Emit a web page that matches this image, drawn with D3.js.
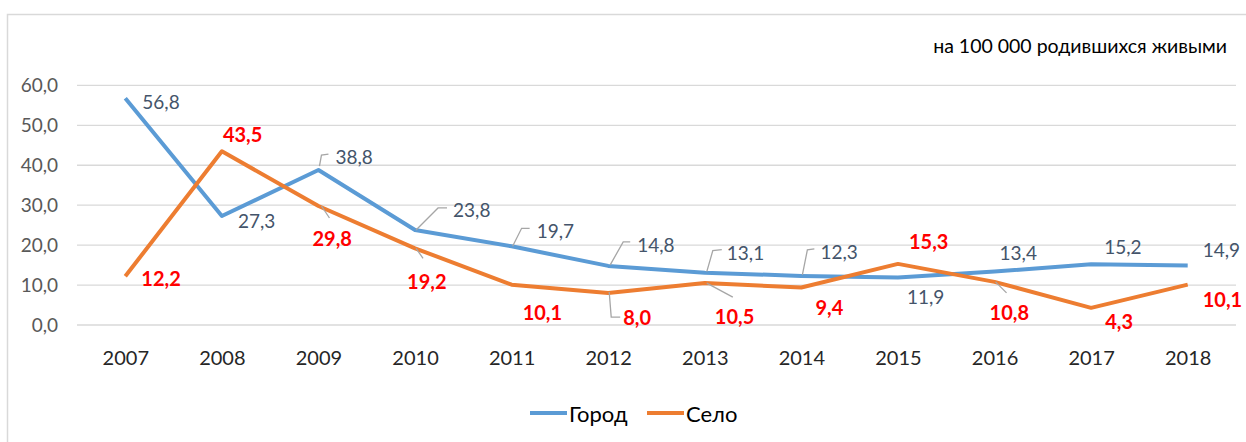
<!DOCTYPE html>
<html lang="ru">
<head>
<meta charset="UTF-8">
<title>Город / Село</title>
<script src="https://cdn.jsdelivr.net/npm/d3@7"></script>
<style>
  body { margin: 0; background: #fff; }
  text { font-family: Lato, "Noto Sans", sans-serif; }
</style>
</head>
<body>
<svg id="chart" width="1246" height="442"></svg>
<script>
// data
const years = ["2007","2008","2009","2010","2011","2012","2013","2014","2015","2016","2017","2018"];
const city = [56.8, 27.3, 38.8, 23.8, 19.7, 14.8, 13.1, 12.3, 11.9, 13.4, 15.2, 14.9];
const village = [12.2, 43.5, 29.8, 19.2, 10.1, 8.0, 10.5, 9.4, 15.3, 10.8, 4.3, 10.1];
const yTicks = [0, 10, 20, 30, 40, 50, 60];
const seriesNames = ["Город", "Село"];
const unitNote = "на 100 000 родившихся живыми";

// label placement (px offsets from the point), like the hand-dragged excel labels
const cityLabelPos = [[17,3],[16,5],[17,-14],[38,-20],[25,-16],[29,-21],[22,-20],[19,-24],[9,19],[5,-19],[13,-18],[15,-16]];
const villageLabelPos = [[16,2],[1,-17],[-6,32],[-8,33],[11,27],[15,24],[10,33],[14,20],[11,-23],[-5,30],[14,13],[15,14]];
const cityLeaders = {2: [[1,-4],[3,-15],[10,-16]], 3: [[1,0],[23,-22],[32,-22]], 4: [[1,0],[10,-18],[18,-18]],
                     5: [[2,-1],[15,-24],[22,-24]], 6: [[2,-1],[8,-22],[17,-23]], 7: [[1,-1],[6,-26],[13,-27]]};
const villageLeaders = {2: [[3,0],[11,12]], 3: [[1,0],[8,10]], 5: [[1,-1],[3,24],[12,24]], 6: [[2,0],[28,14]], 9: [[1,0],[12,11]]};

const svg = d3.select("#chart");
const plot = {left: 77, right: 1236, top: 85.4, bottom: 325};

// chart frame
svg.append("rect")
  .attr("x", 7.5).attr("y", 14.5)
  .attr("width", 1260).attr("height", 450)
  .attr("fill", "none").attr("stroke", "#d9d9d9").attr("stroke-width", 1.5);

const x = d3.scalePoint().domain(years).range([plot.left, plot.right]).padding(0.5);
const y = d3.scaleLinear().domain([0, 60]).range([plot.bottom, plot.top]);
const fmt = v => d3.format(".1f")(v).replace(".", ",");

// grid
svg.append("g")
  .selectAll("line").data(yTicks).join("line")
  .attr("x1", plot.left).attr("x2", plot.right)
  .attr("y1", d => y(d)).attr("y2", d => y(d))
  .attr("stroke", "#d9d9d9").attr("stroke-width", 1.3);

// y axis labels
const yAxis = svg.append("g")
  .attr("transform", `translate(${plot.left},0)`)
  .call(d3.axisLeft(y).tickValues(yTicks).tickFormat(fmt).tickSize(0).tickPadding(19));
yAxis.select(".domain").remove();
yAxis.selectAll("text").attr("font-size", 19).attr("fill", "#595959")
  .attr("font-family", "Lato, 'Noto Sans', sans-serif");

// x axis labels
const xAxis = svg.append("g")
  .attr("transform", `translate(0,${plot.bottom})`)
  .call(d3.axisBottom(x).tickSize(0).tickPadding(26));
xAxis.select(".domain").remove();
xAxis.selectAll("text").attr("font-size", 20).attr("fill", "#262626")
  .attr("font-family", "Lato, 'Noto Sans', sans-serif");

// lines
const line = d3.line().x((d, i) => x(years[i])).y(d => y(d));
svg.append("path").datum(city).attr("d", line)
  .attr("fill", "none").attr("stroke", "#5B9BD5").attr("stroke-width", 4).attr("stroke-linejoin", "round");
svg.append("path").datum(village).attr("d", line)
  .attr("fill", "none").attr("stroke", "#ED7D31").attr("stroke-width", 4).attr("stroke-linejoin", "round");

// leader lines
function leaders(values, defs) {
  Object.entries(defs).forEach(([i, pts]) => {
    const px = x(years[i]), py = y(values[i]);
    svg.append("polyline")
      .attr("points", pts.map(p => `${px + p[0]},${py + p[1]}`).join(" "))
      .attr("fill", "none").attr("stroke", "#A6A6A6").attr("stroke-width", 1.3);
  });
}
leaders(city, cityLeaders);
leaders(village, villageLeaders);

// data labels
svg.append("g").selectAll("text").data(city).join("text")
  .attr("x", (d, i) => x(years[i]) + cityLabelPos[i][0])
  .attr("y", (d, i) => y(d) + cityLabelPos[i][1])
  .attr("dominant-baseline", "central")
  .attr("font-size", 19).attr("fill", "#44546A")
  .text(fmt);
svg.append("g").selectAll("text").data(village).join("text")
  .attr("x", (d, i) => x(years[i]) + villageLabelPos[i][0])
  .attr("y", (d, i) => y(d) + villageLabelPos[i][1])
  .attr("dominant-baseline", "central")
  .attr("font-size", 20).attr("font-weight", "bold").attr("fill", "#FF0000")
  .text(fmt);

// unit note
svg.append("text")
  .attr("x", 1227).attr("y", 45)
  .attr("text-anchor", "end").attr("dominant-baseline", "central")
  .attr("font-size", 19.5).attr("fill", "#000")
  .text(unitNote);

// legend
const legendColors = ["#5B9BD5", "#ED7D31"];
const legendX = [530, 647];
const lg = svg.append("g");
seriesNames.forEach((name, i) => {
  lg.append("line")
    .attr("x1", legendX[i]).attr("x2", legendX[i] + 37)
    .attr("y1", 413).attr("y2", 413)
    .attr("stroke", legendColors[i]).attr("stroke-width", 4);
  lg.append("text")
    .attr("x", legendX[i] + 39).attr("y", 413)
    .attr("dominant-baseline", "central")
    .attr("font-size", 22).attr("fill", "#000")
    .text(name);
});
</script>
</body>
</html>
